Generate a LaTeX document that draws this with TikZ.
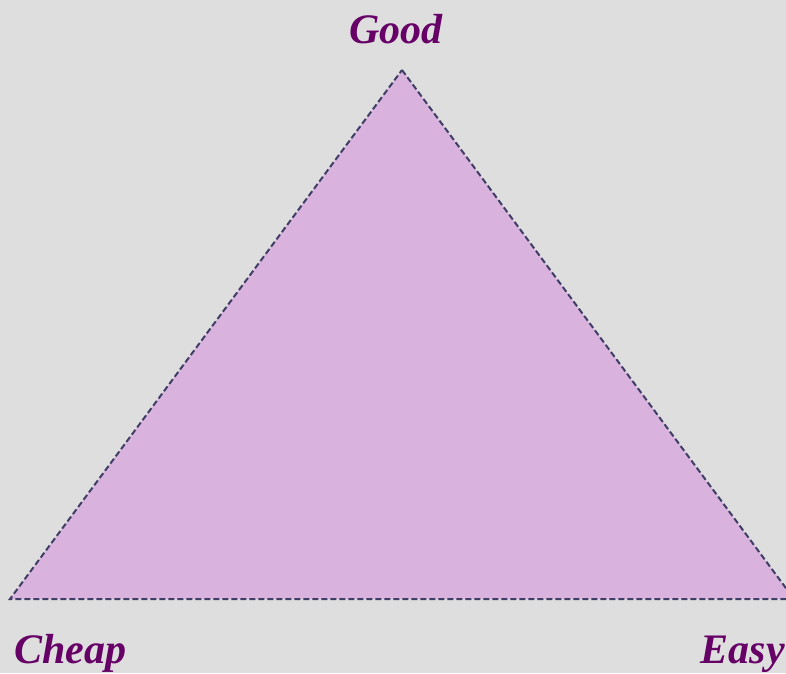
\documentclass[tikz,border=0pt]{standalone}
\usepackage{fontspec}
\setmainfont{Liberation Serif}
\definecolor{bgc}{HTML}{DEDEDE}
\definecolor{fillc}{HTML}{D9B3DD}
\definecolor{edgec}{HTML}{3E3E66}
\definecolor{txtc}{HTML}{660066}
\begin{document}
\begin{tikzpicture}[x=1pt,y=-1pt,
  lbl/.style={font=\fontsize{42}{42}\selectfont\bfseries\itshape, text=txtc, inner sep=0pt, anchor=base},
  tri/.style={fill=fillc, draw=edgec, line width=2pt, dash pattern=on 6pt off 3pt}]
\useasboundingbox (0,0) rectangle (786,673);
\fill[bgc] (0,0) rectangle (786,673);
\clip (0,0) rectangle (786,673);
\coordinate (top) at (402,70);
\coordinate (bl) at (10,599);
\coordinate (br) at (794,599);
\draw[tri] (top) -- (br) -- (bl) -- cycle;
\node[lbl] (good) at (396,43) {Good};
\node[lbl, anchor=base west] (cheap) at (14,663) {Cheap};
\node[lbl, anchor=base east] (easy) at (785,663) {Easy};
\end{tikzpicture}
\end{document}
